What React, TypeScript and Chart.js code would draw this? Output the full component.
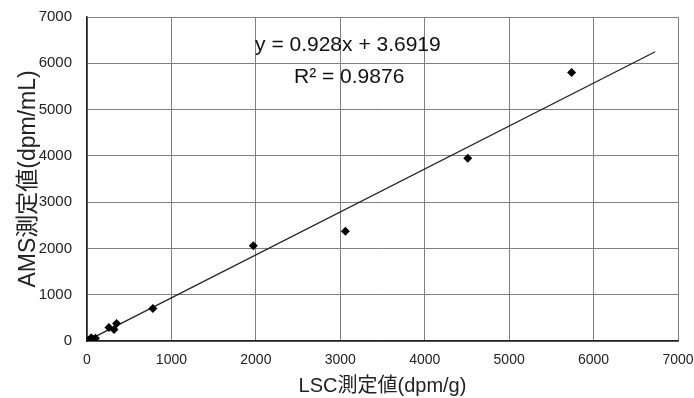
import React, { useEffect, useRef } from "react";
import { Chart, registerables } from "chart.js";

Chart.register(...registerables);

const lscValues = [10, 30, 50, 70, 100, 260, 320, 350, 780, 1970, 3060, 4510, 5740];
const amsValues = [10, 20, 70, 40, 60, 290, 250, 380, 700, 2060, 2370, 3950, 5800];
const trendSlope = 0.928;
const trendIntercept = 3.6919;
const trendRange = [0, 6730];
const xTicks = [0, 1000, 2000, 3000, 4000, 5000, 6000, 7000];
const yTicks = [0, 1000, 2000, 3000, 4000, 5000, 6000, 7000];
const equationText = "y = 0.928x + 3.6919";
const r2Text = "R² = 0.9876";
const xTitle = "LSC測定値(dpm/g)";
const yTitle = "AMS測定値(dpm/mL)";

const FONT = "'Liberation Sans', Arial, 'Noto Sans CJK JP', sans-serif";
const CJK = "'Liberation Sans', 'Noto Sans CJK JP', sans-serif";

export default function App() {
  const ref = useRef<HTMLCanvasElement | null>(null);
  useEffect(() => {
    document.body.style.margin = "0";
    const canvas = ref.current;
    if (!canvas) return;
    const annotate = {
      id: "annotate",
      afterDatasetsDraw(chart: any) {
        const { ctx, scales } = chart;
        ctx.save();
        ctx.fillStyle = "#111";
        ctx.textAlign = "center";
        ctx.textBaseline = "middle";
        ctx.font = `21px ${FONT}`;
        ctx.fillText(equationText, scales.x.getPixelForValue(3090), scales.y.getPixelForValue(6400));
        ctx.fillText(r2Text, scales.x.getPixelForValue(3105), scales.y.getPixelForValue(5700));
        ctx.restore();
      },
    };
    const chart = new Chart(canvas, {
      type: "scatter",
      data: {
        datasets: [
          {
            label: "data",
            data: lscValues.map((x, i) => ({ x, y: amsValues[i] })),
            pointStyle: "rectRot",
            pointRadius: 4.5,
            backgroundColor: "#000",
            borderColor: "#000",
            borderWidth: 0,
          },
          {
            type: "line",
            label: "trend",
            data: trendRange.map((x) => ({ x, y: trendSlope * x + trendIntercept })),
            borderColor: "#222",
            borderWidth: 1.3,
            pointRadius: 0,
            fill: false,
          } as any,
        ],
      },
      options: {
        animation: false,
        responsive: false,
        layout: { padding: { left: 0, right: 0, top: 0, bottom: 0 } },
        plugins: { legend: { display: false }, tooltip: { enabled: false } },
        scales: {
          x: {
            type: "linear",
            min: 0,
            max: 7000,
            afterBuildTicks: (s: any) => {
              s.ticks = xTicks.map((v) => ({ value: v }));
            },
            afterFit: (s: any) => {
              s.height = 57;
              s.paddingRight = 16;
              s.paddingLeft = 0;
            },
            grid: { color: "#808080", lineWidth: 1, drawTicks: false },
            border: { color: "#222", width: 1.5 },
            ticks: {
              color: "#222",
              font: { size: 14, family: FONT },
              padding: 11,
              maxRotation: 0,
              callback: (v: any) => String(v),
            },
            title: {
              display: true,
              text: xTitle,
              color: "#222",
              font: { size: 20, family: CJK },
              padding: { top: 0, bottom: 0 },
            },
          },
          y: {
            type: "linear",
            min: 0,
            max: 7000,
            afterBuildTicks: (s: any) => {
              s.ticks = yTicks.map((v) => ({ value: v }));
            },
            afterFit: (s: any) => {
              s.width = 87;
              s.paddingTop = 17;
              s.paddingBottom = 0;
            },
            grid: { color: "#808080", lineWidth: 1, drawTicks: false },
            border: { color: "#222", width: 1.5 },
            ticks: {
              color: "#222",
              font: { size: 15, family: FONT },
              padding: 15,
              callback: (v: any) => String(v),
            },
            title: {
              display: true,
              text: yTitle,
              color: "#222",
              font: { size: 23, family: CJK },
              padding: { top: 15, bottom: 0 },
            },
          },
        },
      },
      plugins: [annotate],
    });
    return () => chart.destroy();
  }, []);
  return <canvas ref={ref} width={694} height={398} style={{ display: "block" }} />;
}
